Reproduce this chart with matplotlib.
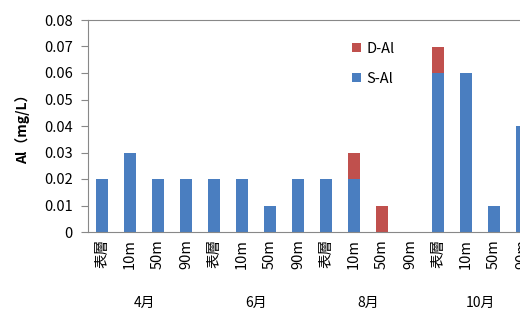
import matplotlib
matplotlib.use("Agg")
import matplotlib.pyplot as plt
import numpy as np

plt.rcParams['font.family'] = ['Noto Sans CJK SC', 'DejaVu Sans']

depths = ["表層", "10m", "50m", "90m"] * 4
months = ["4月", "6月", "8月", "10月"]
s_al = [0.02, 0.03, 0.02, 0.02,
        0.02, 0.02, 0.01, 0.02,
        0.02, 0.02, 0.0, 0.0,
        0.06, 0.06, 0.01, 0.04]
d_al = [0.0, 0.0, 0.0, 0.0,
        0.0, 0.0, 0.0, 0.0,
        0.0, 0.01, 0.01, 0.0,
        0.01, 0.0, 0.0, 0.0]

blue = "#4a7ec0"
red = "#c0504d"

fig = plt.figure(figsize=(5.2, 3.13), dpi=100)
# axes runs past the right edge, as in the cropped original
ax = fig.add_axes([88 / 520, 81 / 313, 448 / 520, 212 / 313])

x = np.arange(len(depths))
ax.bar(x, s_al, width=0.45, color=blue, label="S-Al")
ax.bar(x, d_al, width=0.45, bottom=s_al, color=red, label="D-Al")

ax.set_xlim(-0.5, len(depths) - 0.5)
ax.set_ylim(0, 0.08)
ax.set_yticks(np.arange(0, 0.081, 0.01))
ax.set_yticklabels(["0"] + ["%.2f" % v for v in np.arange(0.01, 0.081, 0.01)], fontsize=10.5)
ax.set_xticks(x)
ax.set_xticklabels(depths, rotation=90, fontsize=10.5)
ax.tick_params(axis="x", length=0, pad=5)
ax.tick_params(axis="y", length=5, color="#888888", pad=6)

for sp in ["left", "bottom", "top"]:
    ax.spines[sp].set_color("#888888")
ax.spines["right"].set_visible(False)

for i, m in enumerate(months):
    ax.text(4 * i + 1.5, -0.335, m, transform=ax.get_xaxis_transform(),
            ha="center", va="center", fontsize=10)

ax.set_ylabel("Al（mg/L）", fontsize=10, fontweight="bold", labelpad=10)

h, l = ax.get_legend_handles_labels()
ax.legend(h[::-1], l[::-1], loc="upper left", bbox_to_anchor=(0.56, 0.96),
          frameon=False, fontsize=10.5, handlelength=0.6, handleheight=0.6,
          handletextpad=0.4, labelspacing=1.1)

fig.savefig("out.png", dpi=100, facecolor="white")
